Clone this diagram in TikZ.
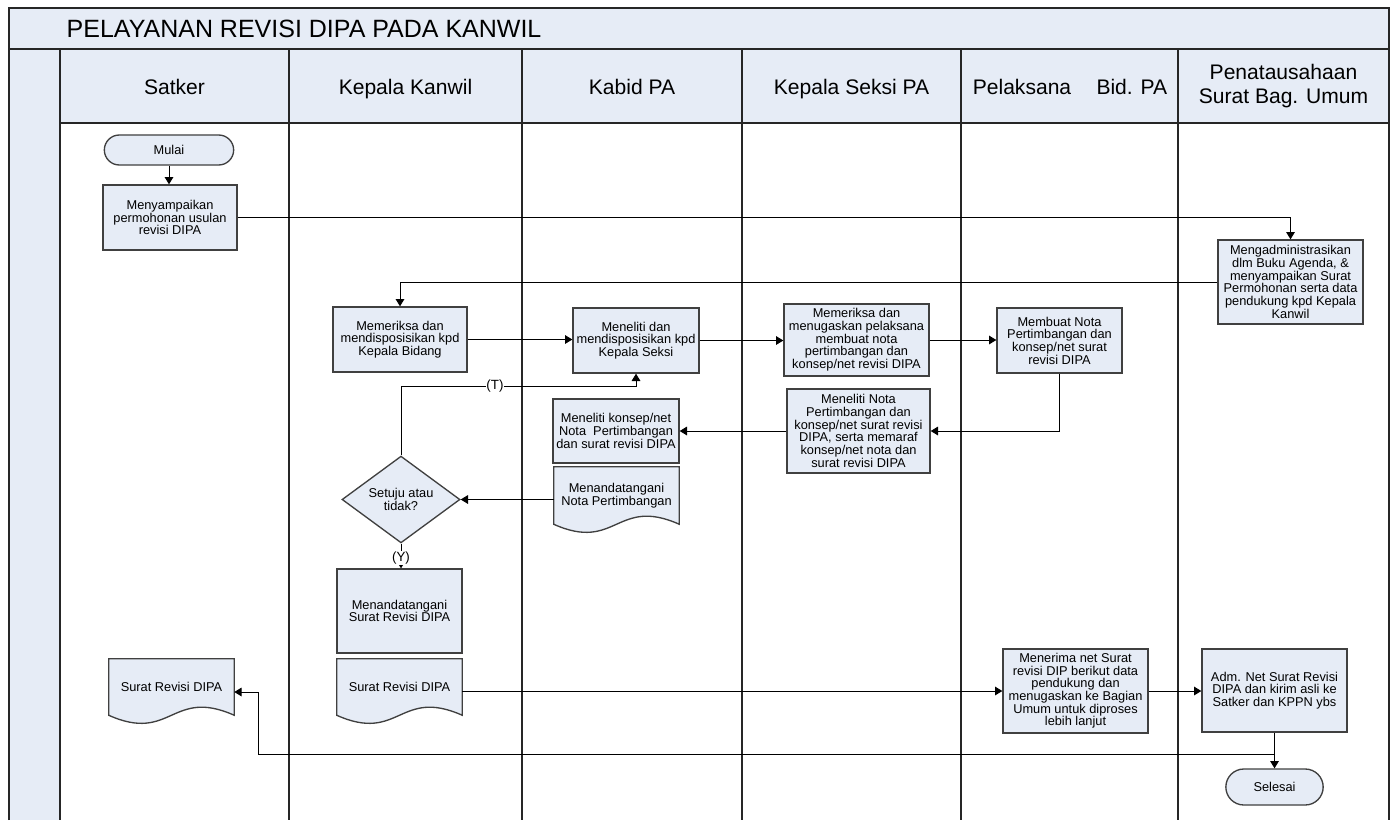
\documentclass[tikz,border=0pt]{standalone}
\usepackage{fontspec}
\setmainfont{Liberation Sans}
\usetikzlibrary{arrows.meta, shapes.geometric, shapes.misc, calc, backgrounds}

\newdimen\pxu \pxu=0.75pt
\definecolor{lanefill}{RGB}{230,236,246}
\definecolor{boxline}{RGB}{64,64,64}

% Document shape: straight top and sides, wavy bottom (drawn behind the text)
\newcommand\docwave[1]{%
  \begin{scope}[on background layer]
    \draw[boxline, line width=1pt, fill=lanefill]
      (#1.north west) -- (#1.north east) -- (#1.south east)
      .. controls ($(#1.south)+(0,-28)$) and ($(#1.south)+(0,28)$) .. (#1.south west) -- cycle;
  \end{scope}}

\begin{document}
\begin{tikzpicture}[
    x=0.75pt, y=-0.75pt,
    >={Triangle[length=5.5pt, width=6.5pt]},
    boxfont/.style={font=\fontsize{9.6}{9.5}\selectfont},
    size/.style 2 args={minimum width=#1\pxu, minimum height=#2\pxu},
    box/.style={draw=boxline, fill=lanefill, line width=1pt, align=center, inner sep=1pt, boxfont},
    doc/.style={draw=none, fill=none, align=center, inner sep=1pt, boxfont},
    term/.style={rounded rectangle, draw=boxline, fill=lanefill, line width=1pt, inner sep=1pt, boxfont},
    dec/.style={diamond, draw=boxline, fill=lanefill, line width=1pt, align=center, inner sep=0pt, boxfont},
    laneline/.style={line width=1.1pt, black!85},
    head/.style={align=center, font=\fontsize{15.8}{18.5}\selectfont},
    arr/.style={->, line width=0.75pt},
    tag/.style={fill=white, inner sep=0.5pt, font=\fontsize{10}{10}\selectfont}
]
\useasboundingbox (0,0) rectangle (1394,820);

% Pool, title band and lane headers
\fill[lanefill] (9,8) rectangle (1389,123);
\fill[lanefill] (9,123) rectangle (60,820);
\draw[laneline] (9,820) -- (9,8) -- (1389,8) -- (1389,820);
\draw[laneline] (9,49) -- (1389,49);
\draw[laneline] (60,123) -- (1389,123);
\foreach \x in {60,289,522,742,961,1178}
  \draw[laneline] (\x,49) -- (\x,820);

\node[anchor=west, font=\fontsize{18.75}{20}\selectfont] (judul) at (62,29) {PELAYANAN REVISI DIPA PADA KANWIL};

\node[head, anchor=base] (hsatker) at (174.5,95) {Satker};
\node[head, anchor=base] (hkanwil) at (405.5,95) {Kepala Kanwil};
\node[head, anchor=base] (hkabid)  at (632,95)   {Kabid PA};
\node[head, anchor=base] (hkasi)   at (851.5,95) {Kepala Seksi PA};
\node[head, anchor=base] (hpel)    at (1070,95)  {Pelaksana\hspace{19pt}Bid. PA};
\node[head] (humum)   at (1283.5,86) {Penatausahaan\\Surat Bag. Umum};

% Steps
\node[term, size={132}{30}] (mulai) at (169,150) {Mulai};
\node[box, size={134}{65}] (kirim) at (170,217.5) {Menyampaikan\\permohonan usulan\\revisi DIPA};
\node[box, size={145}{84}] (admin) at (1290.5,282) {Mengadministrasikan\\dlm Buku Agenda, \&\\menyampaikan Surat\\Permohonan serta data\\pendukung kpd Kepala\\Kanwil};
\node[box, size={134}{65}] (periksa) at (400,339.5) {Memeriksa dan\\mendisposisikan kpd\\Kepala Bidang};
\node[box, size={126}{65}] (teliti) at (636,340.5) {Meneliti dan\\mendisposisikan kpd\\Kepala Seksi};
\node[box, size={145}{72}] (tugas) at (856.5,340) {Memeriksa dan\\menugaskan pelaksana\\membuat nota\\pertimbangan dan\\konsep/net revisi DIPA};
\node[box, size={125}{65}] (buat) at (1059.5,340.5) {Membuat Nota\\Pertimbangan dan\\konsep/net surat\\revisi DIPA};
\node[box, size={143}{84}] (nota) at (858.5,431) {Meneliti Nota\\Pertimbangan dan\\konsep/net surat revisi\\DIPA, serta memaraf\\konsep/net nota dan\\surat revisi DIPA};
\node[box, size={126}{64}] (konsep) at (616,431) {Meneliti konsep/net\\Nota~ Pertimbangan\\dan surat revisi DIPA};
\node[doc, size={125}{57}] (ttdnota) at (616.5,495.5) {Menandatangani\\Nota Pertimbangan};
\docwave{ttdnota}
\node[dec, size={118}{65}] (setuju) at (401,499.5) {Setuju atau\\tidak?};
\node[box, size={125}{84}] (ttdsurat) at (399.5,611) {Menandatangani\\Surat Revisi DIPA};
\node[doc, size={125}{56}] (suratK) at (399.5,687) {Surat Revisi DIPA};
\docwave{suratK}
\node[doc, size={125}{56}] (suratS) at (171.5,687) {Surat Revisi DIPA};
\docwave{suratS}
\node[box, size={145}{84}] (terima) at (1075.5,691) {Menerima net Surat\\revisi DIP berikut data\\pendukung dan\\menugaskan ke Bagian\\Umum untuk diproses\\lebih lanjut};
\node[box, size={145}{83}] (adm) at (1274.5,690.5) {Adm. Net Surat Revisi\\DIPA dan kirim asli ke\\Satker dan KPPN ybs};
\node[term, size={100}{36}] (selesai) at (1274.5,787) {Selesai};

% Flow
\draw[arr] (mulai.south) -- (mulai.south |- kirim.north);
\draw[arr] (kirim.east) -| (admin.north);
\draw[arr] (admin.west) -| (periksa.north);
\draw[arr] (periksa.east) -- (periksa.east -| teliti.west);
\draw[arr] (teliti.east) -- (teliti.east -| tugas.west);
\draw[arr] (tugas.east) -- (tugas.east -| buat.west);
\draw[arr] (buat.south) |- (nota.east);
\draw[arr] (nota.west) -- (nota.west -| konsep.east);
\draw[arr] (ttdnota.west |- setuju.east) -- (setuju.east);

\coordinate (tikungT) at (401,386);
\draw[arr] (setuju.north) -- (tikungT) -| node[tag, pos=0.2] {(T)} (teliti.south);
\draw[arr] (setuju.south) -- node[tag, pos=0.57] {(Y)} (setuju.south |- ttdsurat.north);

\draw[arr] (suratK.east |- terima.west) -- (terima.west);
\draw[arr] (terima.east) -- (terima.east -| adm.west);
\draw[arr] (adm.south) -- (selesai.north);

\coordinate (pisah) at (1274.5,754);
\coordinate (belokS) at (258,754);
\draw[arr] (pisah) -- (belokS) |- ($(suratS.east)+(0,5)$);

\end{tikzpicture}
\end{document}
